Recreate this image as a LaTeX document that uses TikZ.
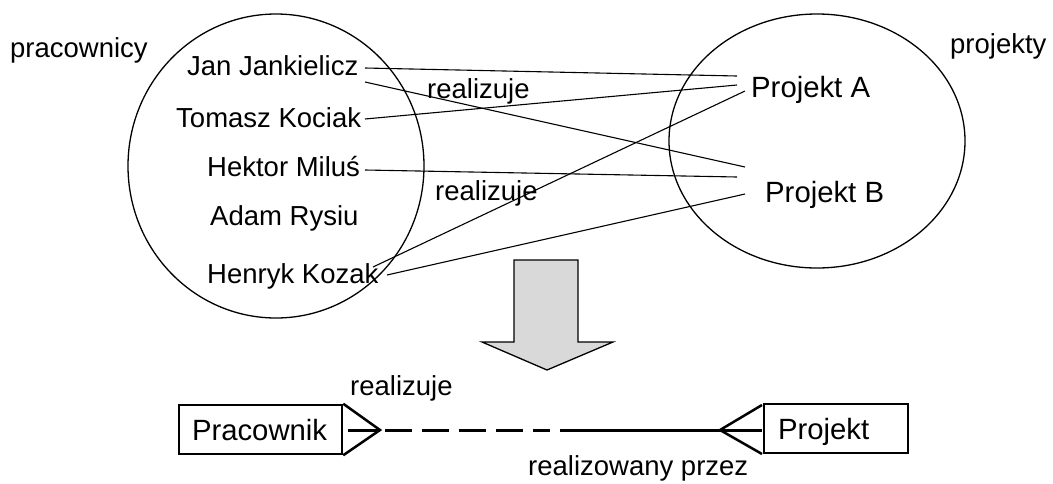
\documentclass[tikz,border=0pt]{standalone}
\usepackage{fontspec}
\setmainfont{Liberation Sans}
\begin{document}
\begin{tikzpicture}[x=1pt,y=-1pt,
  lbl/.style={inner sep=0, anchor=base west, font=\fontsize{27.5}{33}\selectfont},
  biglbl/.style={inner sep=0, anchor=base west, font=\fontsize{29.3}{35}\selectfont},
  setline/.style={draw, line width=1.3pt},
  conn/.style={line width=1.1pt},
  entity/.style={draw, line width=2.5pt, rectangle, minimum height=49pt, inner ysep=0pt,
     text height=22pt, text depth=0pt, align=left, font=\fontsize{29.3}{35}\selectfont},
  rel/.style={line width=3pt},
  bigarrow/.style={draw, line width=1.3pt, fill=black!15, line join=miter}
]
\useasboundingbox (0,0) rectangle (1053,483);

% sets
\draw[setline] (276,166) ellipse [x radius=148, y radius=152];
\draw[setline] (817,141) ellipse [x radius=148, y radius=127];

\node[lbl] (pracownicy) at (10,57) {pracownicy};
\node[lbl] (projekty) at (950,53) {projekty};

% people
\node[lbl] (jan) at (187,75) {Jan Jankielicz};
\node[lbl] (tomasz) at (176,127) {Tomasz Kociak};
\node[lbl] (hektor) at (207,176) {Hektor Miluś};
\node[lbl] (adam) at (210,225) {Adam Rysiu};
\node[lbl] (henryk) at (207,283) {Henryk Kozak};

% projects
\node[biglbl] (pa) at (751,97) {Projekt A};
\node[biglbl] (pb) at (765,202) {Projekt B};

\node[lbl] (real1) at (427,98) {realizuje};
\node[lbl] (real2) at (435,200) {realizuje};

% connector end points
\coordinate (jan1) at (365,68);
\coordinate (jan2) at (365,82);
\coordinate (tom1) at (365,119);
\coordinate (hek1) at (365,170);
\coordinate (hen1) at (373,267);
\coordinate (hen2) at (387,275);
\coordinate (pa1) at (737,76);
\coordinate (pa2) at (737,85);
\coordinate (pa3) at (745,91);
\coordinate (pb1) at (745,167);
\coordinate (pb2) at (737,177);
\coordinate (pb3) at (745,194);

\draw[conn] (jan1) -- (pa1);
\draw[conn] (jan2) -- (pb1);
\draw[conn] (tom1) -- (pa2);
\draw[conn] (hek1) -- (pb2);
\draw[conn] (hen1) -- (pa3);
\draw[conn] (hen2) -- (pb3);

% big arrow
\draw[bigarrow] (514,260) -- (578,260) -- (578,342) -- (613,342) -- (547,370)
  -- (482,342) -- (514,342) -- cycle;

% bottom model
\node[entity, text width=137pt, inner xsep=13pt] (prac) at (260.5,429.5) {Pracownik};
\node[entity, text width=116pt, inner xsep=14pt] (proj) at (836,428.5) {Projekt};

\coordinate (tipP) at (380,430);
\coordinate (inP) at (348,430);
\coordinate (dashA) at (385,430);
\coordinate (dashB) at (550,430);
\coordinate (solA) at (560,430);
\coordinate (crow) at (720,430);
\coordinate (crowT) at (762,405);
\coordinate (crowB) at (762,454);
\coordinate (crowM) at (762,430);

\draw[line width=2.5pt, line join=miter] (prac.north east) -- (tipP) -- (prac.south east);
\draw[rel] (inP) -- (tipP);
\draw[rel, dash pattern=on 27pt off 10pt] (dashA) -- (dashB);
\draw[rel] (solA) -- (crow);
\draw[line width=2.5pt] (crowT) -- (crow) -- (crowB);
\draw[rel] (crow) -- (crowM);

\node[lbl] (realb) at (350,395) {realizuje};
\node[lbl] (realp) at (528,475) {realizowany przez};
\end{tikzpicture}
\end{document}
